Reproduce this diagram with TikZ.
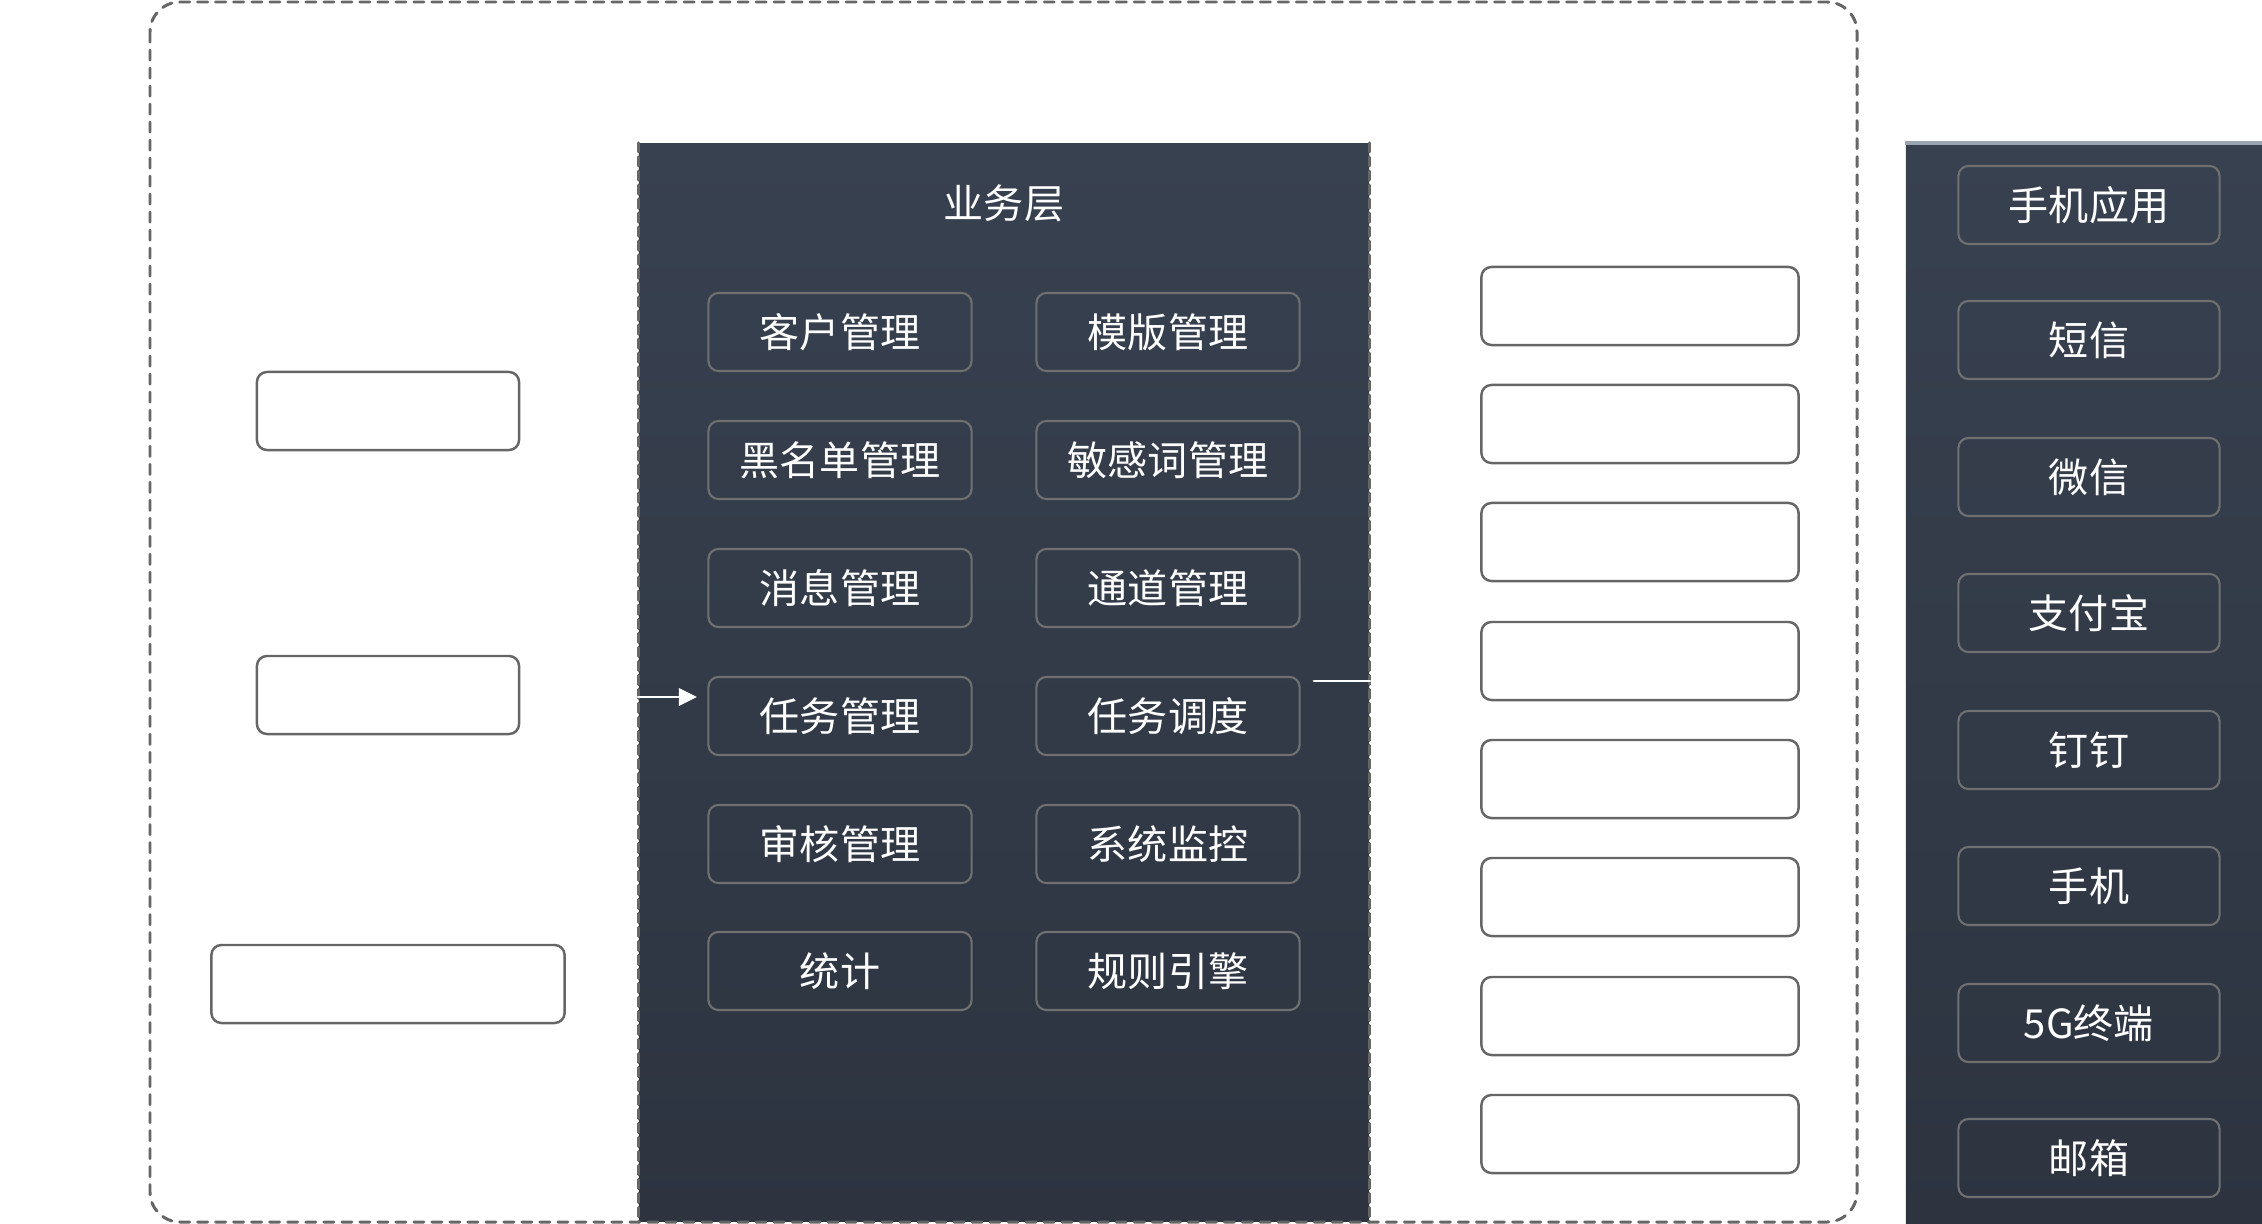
\documentclass[tikz,border=0pt]{standalone}
\usepackage{fontspec}
\newfontfamily\cjk{Noto Sans CJK SC}
\usetikzlibrary{arrows.meta}

\definecolor{panelTop}{HTML}{384150}
\definecolor{panelBot}{HTML}{2D3440}
\definecolor{edgeGray}{HTML}{666666}
\definecolor{btnGray}{HTML}{707070}
\definecolor{stripe}{HTML}{9AA5B1}

\tikzset{
  panel/.style={top color=panelTop, bottom color=panelBot, draw=none, inner sep=0pt},
  modbox/.style={draw=btnGray, line width=0.6pt, rounded corners=0.1cm, minimum width=2.63cm,
    minimum height=0.78cm, inner sep=0pt, text=white, font=\cjk\fontsize{11.4}{13}\selectfont},
  chanbox/.style={modbox, minimum width=2.61cm},
  blankbox/.style={draw=edgeGray, line width=0.7pt, rounded corners=0.1cm, fill=white,
    minimum width=2.62cm, minimum height=0.78cm, inner sep=0pt},
  sidedash/.style={edgeGray, line width=0.85pt, dash pattern=on 0.09cm off 0.05cm},
}

\begin{document}
\begin{tikzpicture}[line cap=round,line join=round,x=0.01cm,y=-0.01cm]
    \useasboundingbox (0,0) rectangle (2262,1224);

    % business layer panel
    \node[panel, minimum width=7.30cm, minimum height=10.77cm] (biz) at (1004,682.5) {};
    \draw[sidedash] (biz.north west) -- (biz.south west);
    \draw[sidedash] (biz.north east) -- (biz.south east);
    \node[text=white, font=\cjk\fontsize{11.4}{13}\selectfont] (bizT) at (1004,203) {业务层};

    % outer frame
    \draw[edgeGray, line width=0.85pt, dash pattern=on 0.1cm off 0.08cm, rounded corners=0.3cm]
        (150,2) rectangle (1857,1222);

    % modules, left column
    \node[modbox] (kehu) at (840,332) {客户管理};
    \node[modbox] (heimd) at (840,460) {黑名单管理};
    \node[modbox] (xiaox) at (840,588) {消息管理};
    \node[modbox] (renwu) at (840,716) {任务管理};
    \node[modbox] (shenh) at (840,844) {审核管理};
    \node[modbox] (tongj) at (840,971) {统计};

    % modules, right column
    \node[modbox] (mob) at (1168,332) {模版管理};
    \node[modbox] (mingan) at (1168,460) {敏感词管理};
    \node[modbox] (tongd) at (1168,588) {通道管理};
    \node[modbox] (diaodu) at (1168,716) {任务调度};
    \node[modbox] (jiank) at (1168,844) {系统监控};
    \node[modbox] (guiz) at (1168,971) {规则引擎};

    % left blank boxes
    \node[blankbox] (L1) at (388,411) {};
    \node[blankbox] (L2) at (388,695) {};
    \node[blankbox, minimum width=3.53cm] (L3) at (388,984) {};

    % right blank boxes
    \node[blankbox, minimum width=3.17cm] (R1) at (1640,306) {};
    \node[blankbox, minimum width=3.17cm] (R2) at (1640,424) {};
    \node[blankbox, minimum width=3.17cm] (R3) at (1640,542) {};
    \node[blankbox, minimum width=3.17cm] (R4) at (1640,661) {};
    \node[blankbox, minimum width=3.17cm] (R5) at (1640,779) {};
    \node[blankbox, minimum width=3.17cm] (R6) at (1640,897) {};
    \node[blankbox, minimum width=3.17cm] (R7) at (1640,1016) {};
    \node[blankbox, minimum width=3.17cm] (R8) at (1640,1134) {};

    % channel panel
    \node[panel, minimum width=3.56cm, minimum height=10.79cm] (chan) at (2084,683.5) {};
    \draw[stripe, line width=1pt, line cap=butt] (chan.north west) -- (chan.north east);

    \node[chanbox] (app) at (2089,205) {手机应用};
    \node[chanbox] (sms) at (2089,340) {短信};
    \node[chanbox] (wx) at (2089,477) {微信};
    \node[chanbox] (zfb) at (2089,613) {支付宝};
    \node[chanbox] (dd) at (2089,750) {钉钉};
    \node[chanbox] (phone) at (2089,886) {手机};
    \node[chanbox] (fiveg) at (2089,1023) {5G终端};
    \node[chanbox] (mail) at (2089,1158) {邮箱};

    % connectors on the panel
    \coordinate (inA) at (biz.west |- 0,697);
    \coordinate (inB) at (697,697);
    \draw[white, line width=0.8pt, -{Triangle[length=0.18cm, width=0.17cm]}] (inA) -- (inB);
    \coordinate (outA) at (1314,681);
    \coordinate (outB) at (biz.east |- 0,681);
    \draw[white, line width=0.8pt] (outA) -- (outB);

\end{tikzpicture}
\end{document}
